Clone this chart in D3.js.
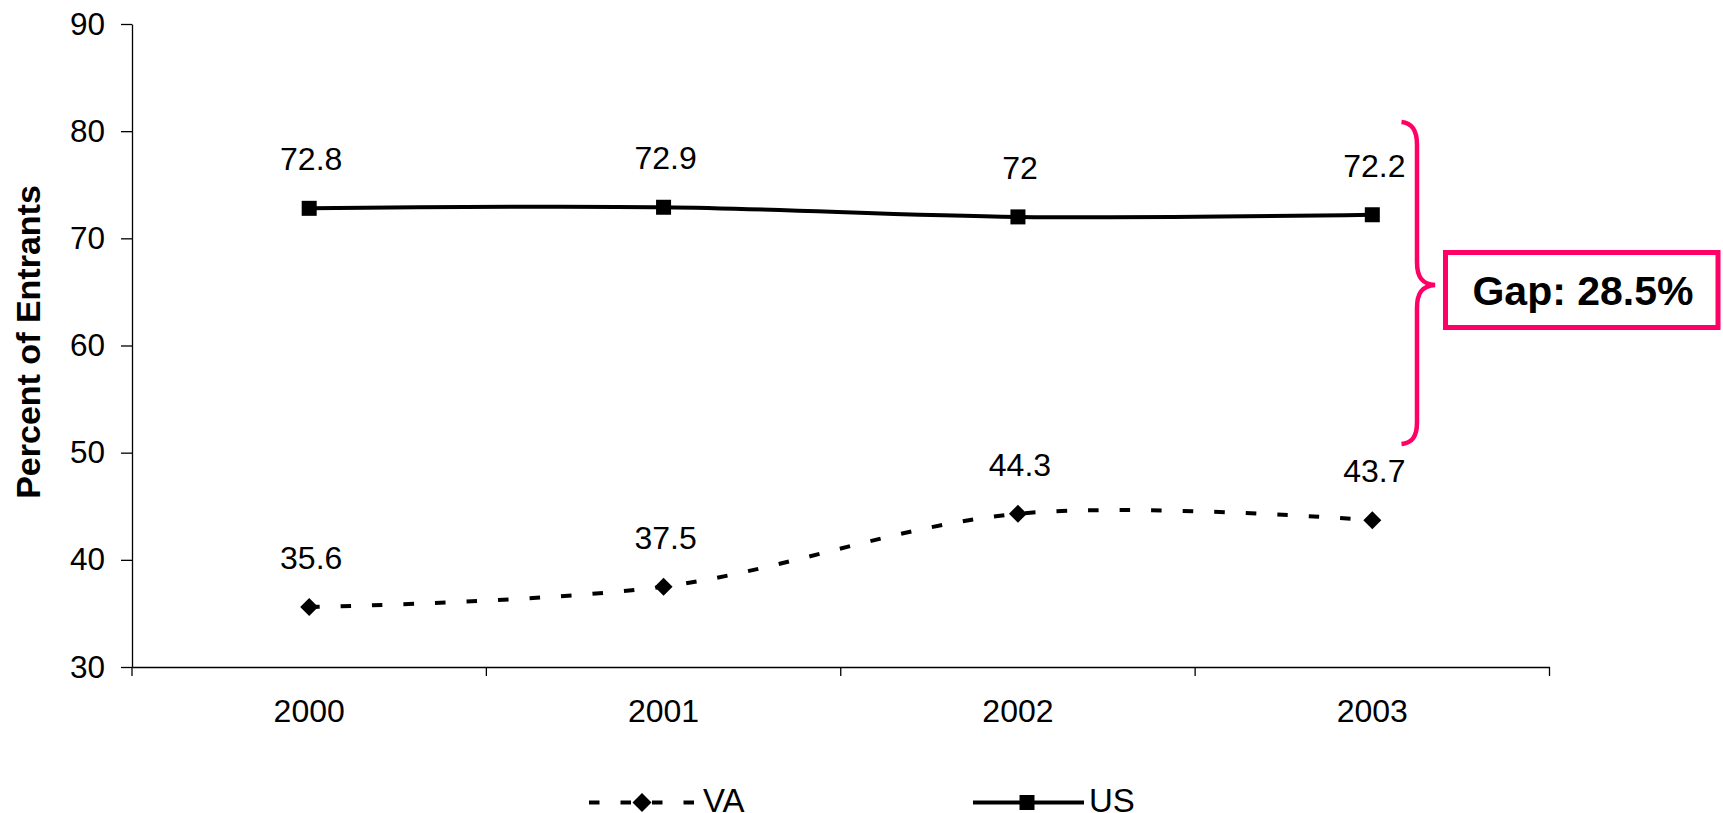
<!DOCTYPE html>
<html>
<head>
<meta charset="utf-8">
<script src="https://cdn.jsdelivr.net/npm/d3@7"></script>
<style>
  body { margin: 0; background: #fff; }
  svg { display: block; }
  text { font-family: "Liberation Sans", Arial, sans-serif; fill: #000; }
</style>
</head>
<body>
<svg id="chart" width="1723" height="813"></svg>
<script>
// ---- data ----
const years = ["2000", "2001", "2002", "2003"];
const vaValues = [35.6, 37.5, 44.3, 43.7];
const usValues = [72.8, 72.9, 72, 72.2];
const yTicks = [30, 40, 50, 60, 70, 80, 90];
const seriesNames = ["VA", "US"];
const yTitle = "Percent of Entrants";
const gapLabel = "Gap: 28.5%";

// ---- layout ----
const svg = d3.select("#chart");
const x = d3.scaleBand().domain(years).range([132, 1549.5]).padding(0);
const y = d3.scaleLinear().domain([30, 90]).range([667, 24]);
const cx = d => x(d) + x.bandwidth() / 2;
const pink = "#ff0066";
const FONT = "Liberation Sans, Arial, sans-serif";

// y axis
const yAxis = svg.append("g")
  .attr("transform", "translate(132,0)")
  .call(d3.axisLeft(y).tickValues(yTicks).tickSize(11).tickSizeOuter(0).tickPadding(16));
yAxis.select(".domain").attr("stroke", "#000").attr("stroke-width", 1.3);
yAxis.selectAll(".tick line").attr("stroke", "#000").attr("stroke-width", 1.3);
yAxis.selectAll(".tick text").attr("font-size", 31.5).attr("font-family", FONT).attr("fill", "#000");

// x axis
const xAxis = svg.append("g")
  .attr("transform", "translate(0,667)")
  .call(d3.axisBottom(x).tickSize(0).tickSizeOuter(0).tickPadding(32));
xAxis.select(".domain").attr("stroke", "#000").attr("stroke-width", 1.3);
xAxis.selectAll(".tick text").attr("font-size", 32).attr("font-family", FONT).attr("fill", "#000");
// boundary tick marks
const bounds = years.map(d => x(d)).concat([x(years[years.length - 1]) + x.bandwidth()]);
svg.append("g").selectAll("line").data(bounds).join("line")
  .attr("x1", d => d).attr("x2", d => d)
  .attr("y1", 667).attr("y2", 676)
  .attr("stroke", "#000").attr("stroke-width", 1.3);

// y title
svg.append("text")
  .attr("transform", "translate(39.5,342) rotate(-90)")
  .attr("text-anchor", "middle")
  .attr("font-size", 34).attr("font-weight", "bold")
  .text(yTitle);

// lines
const line = d3.line().x((d, i) => cx(years[i])).y(d => y(d)).curve(d3.curveCardinal.tension(0));

svg.append("path").datum(usValues)
  .attr("d", line).attr("fill", "none").attr("stroke", "#000").attr("stroke-width", 4);
svg.append("path").datum(vaValues)
  .attr("d", line).attr("fill", "none").attr("stroke", "#000").attr("stroke-width", 4)
  .attr("stroke-dasharray", "10.5,21");

// markers
svg.append("g").selectAll("rect").data(usValues).join("rect")
  .attr("x", (d, i) => cx(years[i]) - 7.5).attr("y", d => y(d) - 7.5)
  .attr("width", 15).attr("height", 15).attr("fill", "#000");
svg.append("g").selectAll("path").data(vaValues).join("path")
  .attr("d", (d, i) => {
    const px = cx(years[i]), py = y(d);
    return `M${px},${py - 9}L${px + 9},${py}L${px},${py + 9}L${px - 9},${py}Z`;
  })
  .attr("fill", "#000");

// value labels
function labels(vals) {
  svg.append("g").selectAll("text").data(vals).join("text")
    .attr("x", (d, i) => cx(years[i]) + 2)
    .attr("y", d => y(d) - 38)
    .attr("text-anchor", "middle")
    .attr("font-size", 32)
    .text(d => d);
}
labels(usValues);
labels(vaValues);

// brace
svg.append("path")
  .attr("d", "M1401.5,122 C1412,123 1417,130 1417,145 L1417,262 C1417,277 1422,284 1435,285 C1422,286 1417,293 1417,308 L1417,422 C1417,437 1412,443 1401.5,444")
  .attr("fill", "none").attr("stroke", pink).attr("stroke-width", 4.5);

// gap box
svg.append("rect")
  .attr("x", 1445.5).attr("y", 252.5).attr("width", 272.5).attr("height", 75)
  .attr("fill", "#fff").attr("stroke", pink).attr("stroke-width", 5);
svg.append("text")
  .attr("x", 1583).attr("y", 305)
  .attr("text-anchor", "middle")
  .attr("font-size", 41).attr("font-weight", "bold")
  .text(gapLabel);

// legend
const legY = 802.5;
const leg = svg.append("g");
// VA
leg.append("line").attr("x1", 589).attr("x2", 695).attr("y1", legY).attr("y2", legY)
  .attr("stroke", "#000").attr("stroke-width", 4).attr("stroke-dasharray", "10.5,21");
leg.append("path").attr("d", `M642,${legY - 9.5}L651.5,${legY}L642,${legY + 9.5}L632.5,${legY}Z`).attr("fill", "#000");
leg.append("text").attr("x", 703).attr("y", 811.5).attr("font-size", 33).text(seriesNames[0]);
// US
leg.append("line").attr("x1", 973).attr("x2", 1084).attr("y1", legY).attr("y2", legY)
  .attr("stroke", "#000").attr("stroke-width", 4);
leg.append("rect").attr("x", 1019.5).attr("y", legY - 7.5).attr("width", 15).attr("height", 15).attr("fill", "#000");
leg.append("text").attr("x", 1089).attr("y", 811.5).attr("font-size", 33).text(seriesNames[1]);
</script>
</body>
</html>
